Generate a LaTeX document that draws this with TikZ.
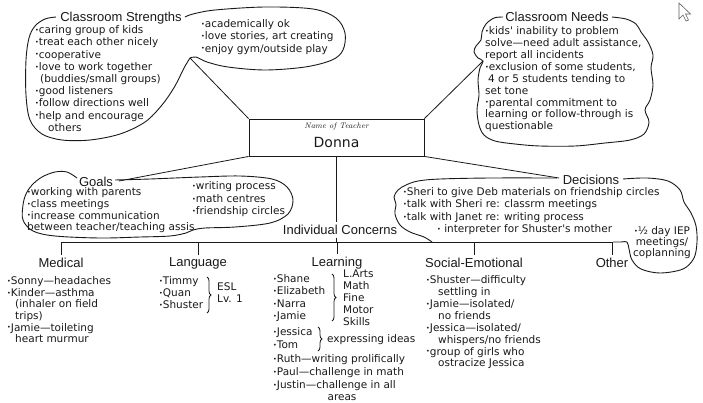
\documentclass[tikz,border=0pt]{standalone}
\usepackage{fontspec}
\usepackage{tikz}
\usetikzlibrary{positioning,decorations.pathreplacing}
\newfontfamily\handfont{DejaVu Sans}
\newfontfamily\headfont{Liberation Sans}
\definecolor{ink}{RGB}{25,25,25}
\newcommand{\bul}{\raisebox{0.2ex}{\scalebox{0.6}{•}}}
\newcommand{\hand}[1]{\handfont\fontsize{10.5}{#1}\selectfont}
\tikzstyle{heading} = [inner sep=0pt, outer sep=3pt, text=ink, font=\headfont\fontsize{13}{15}\selectfont]
\tikzstyle{itemlist} = [inner sep=0pt, anchor=north west, align=left, text=ink, font=\hand{12.2}, execute at begin node=\strut]
\tikzstyle{bubble} = [line width=0.9pt, draw=ink, smooth, tension=0.55]
\tikzstyle{link} = [line width=0.8pt, draw=ink]
\tikzstyle{curly} = [decorate, decoration={brace, amplitude=4pt}, line width=0.8pt, draw=ink]
\tikzstyle{namebox} = [rectangle, draw=ink, line width=0.9pt, minimum width=175pt, minimum height=37pt]

\begin{document}
\begin{tikzpicture}[x=1pt, y=-1pt, node distance=4pt, >=stealth]
\useasboundingbox (0,0) rectangle (703,402);

\node[namebox] (donna) at (336.5,137.5) {};
\node[below=4pt of donna.north, inner sep=0pt, text=ink, font=\fontsize{8}{9}\selectfont\itshape] (nameof) {Name of Teacher};
\node[below=7pt of nameof, inner sep=0pt, text=ink, font=\handfont\fontsize{14}{16}\selectfont] (teacher) {Donna};

\node[heading, anchor=base] (strengthsT) at (121,21.5) {Classroom Strengths};
\node[heading, anchor=base] (needsT) at (557,21.5) {Classroom Needs};
\node[heading, anchor=base] (goalsT) at (96,186.5) {Goals};
\node[heading, anchor=base] (decisionsT) at (591,184.5) {Decisions};
\node[heading, anchor=base] (concerns) at (340,234.5) {Individual Concerns};
\node[heading, anchor=base] (medical) at (61,267.5) {Medical};
\node[heading, anchor=base] (language) at (198,266.5) {Language};
\node[heading, anchor=base] (learning) at (337,266.5) {Learning};
\node[heading, anchor=base] (social) at (474,267.5) {Social-Emotional};
\node[heading, anchor=base] (other) at (612,267.5) {Other};

\node[itemlist] (strengthsA) at (35,25.5) {\bul caring group of kids\\ \bul treat each other nicely\\ \bul cooperative\\ \bul love to work together\\ \hspace*{5pt}(buddies/small groups)\\ \bul good listeners\\ \bul follow directions well\\ \bul help and encourage\\ \hspace*{13pt}others};
\node[itemlist] (strengthsB) at (201,19.5) {\bul academically ok\\ \bul love stories, art creating\\ \bul enjoy gym/outside play};
\node[itemlist, font=\hand{11.9}] (needs) at (485,26.5) {\bul kids' inability to problem\\ solve—need adult assistance,\\ report all incidents\\ \bul exclusion of some students,\\ \hspace*{3pt}4 or 5 students tending to\\ set tone\\ \bul parental commitment to\\ learning or follow-through is\\ questionable};
\node[itemlist, font=\hand{11.7}] (goalsA) at (27,187.5) {\bul working with parents\\ \bul class meetings\\ \bul increase communication\\ between teacher/teaching assis};
\node[itemlist, font=\hand{12.5}] (goalsB) at (192,181.5) {\bul writing process\\ \bul math centres\\ \bul friendship circles};
\node[itemlist, font=\hand{12.3}] (decisions) at (403,187.5) {\bul Sheri to give Deb materials on friendship circles\\ \bul talk with Sheri re: classrm meetings\\ \bul talk with Janet re: writing process\\ \hspace*{34pt}\bul\ interpreter for Shuster's mother};
\node[itemlist, anchor=north, align=center, font=\hand{10.7}] (iep) at (662,226.5) {\bul ½ day IEP\\ meetings/\\ coplanning};

\node[itemlist, font=\hand{11.6}] (medicalList) at (7,276.5) {\bul Sonny—headaches\\ \bul Kinder—asthma\\ \hspace*{8pt}(inhaler on field\\ \hspace*{8pt}trips)\\ \bul Jamie—toileting\\ \hspace*{8pt}heart murmur};
\node[itemlist, font=\hand{12}] (languageList) at (159,276.5) {\bul Timmy\\ \bul Quan\\ \bul Shuster};
\node[itemlist, font=\hand{12}] (esl) at (217,282.5) {ESL\\ Lv. 1};
\node[itemlist, font=\hand{12.3}] (learningA) at (273,274.5) {\bul Shane\\ \bul Elizabeth\\ \bul Narra\\ \bul Jamie};
\node[itemlist, font=\hand{12}] (skills) at (343,269.5) {L.Arts\\ Math\\ Fine\\ Motor\\ Skills};
\node[itemlist, font=\hand{13}] (learningB) at (273,327.5) {\bul Jessica\\ \bul Tom};
\node[itemlist, anchor=west] (ideas) at (327,340) {expressing ideas};
\node[itemlist, font=\hand{13}] (learningC) at (273,354.5) {\bul Ruth—writing prolifically\\ \bul Paul—challenge in math\\ \bul Justin—challenge in all};
\node[itemlist, anchor=base] (areas) at (342,400) {areas};
\node[itemlist, font=\hand{11.9}] (socialList) at (426,275.5) {\bul Shuster—difficulty\\ \hspace*{12pt}settling in\\ \bul Jamie—isolated/\\ \hspace*{12pt}no friends\\ \bul Jessica—isolated/\\ \hspace*{12pt}whispers/no friends\\ \bul group of girls who\\ \hspace*{12pt}ostracize Jessica};

\draw[curly] (207,277) -- (207,313);
\draw[curly] (332,274) -- (332,321);
\draw[curly] (318,327) -- (318,351);

\draw[bubble] plot coordinates {(185,17) (193,14) (215,10) (265,7) (313,9) (336,18) (345,33) (343,50) (332,60) (305,67) (265,70) (228,67) (207,62) (196,57) (190,58)};
\draw[bubble] plot coordinates {(190,58) (184,68) (175,86) (162,105) (145,122) (120,134) (90,140) (62,140) (42,134) (30,120) (26,95) (26,60) (29,38) (35,26) (45,19) (56,17)};
\draw[bubble] plot coordinates {(612,17) (626,19) (636,24) (641,32) (648,42) (653,55) (651,68) (653,85) (650,100) (645,110) (649,122) (644,134) (630,140) (605,143) (575,146) (540,146) (515,144) (495,141) (484,135) (479,125) (477,110) (479,95) (478,80) (480,68) (483,61) (478,58) (474,52) (476,46) (481,40) (482,32) (486,24) (494,18) (503,17)};
\draw[bubble] plot coordinates {(115,180) (150,179) (200,177) (240,176) (272,179) (287,187) (293,200) (288,214) (270,223) (235,227) (205,228) (193,230) (186,233) (170,236) (140,237) (100,238) (55,236) (33,231) (23,220) (23,205) (26,194) (32,185) (42,177) (55,172) (67,172) (77,178)};
\draw[bubble] plot coordinates {(623,179) (647,178) (668,181) (680,190) (684,202) (691,213) (696,226) (697,242) (694,258) (683,269) (660,273) (641,269) (632,260) (629,249) (627,242) (621,242) (613,242)};
\draw[bubble] plot coordinates {(432,242) (424,237) (410,232) (400,225) (395,214) (396,204) (394,197) (398,190) (406,185) (418,181) (440,179) (490,178) (557,178)};

\coordinate (strengthsTip) at (190,58);
\coordinate (needsTip) at (483,61);
\coordinate (goalsTip) at (119,181);
\coordinate (decisionsTip) at (559,178);
\draw[link] (strengthsTip) -- (donna.north west);
\draw[link] (needsTip) -- (donna.north east);
\draw[link] (goalsTip) -- (donna.south west);
\draw[link] (decisionsTip) -- (donna.south east);

\coordinate (bus) at (0,242);
\draw[link] (donna.south) -- (donna.south |- concerns.north);
\draw[link] (donna.south |- concerns.south) -- (donna.south |- bus);
\draw[link] (medical.north |- bus) -- (other.north |- bus);
\foreach \cat in {medical,language,learning,social,other}
  \draw[link] (\cat.north |- bus) -- (\cat.north);

\draw[line width=0.6pt, draw=ink!70] (679,3) -- (679,19) -- (683,15) -- (686,21) -- (688.5,20) -- (685.5,14) -- (690.5,14) -- cycle;
\end{tikzpicture}
\end{document}
